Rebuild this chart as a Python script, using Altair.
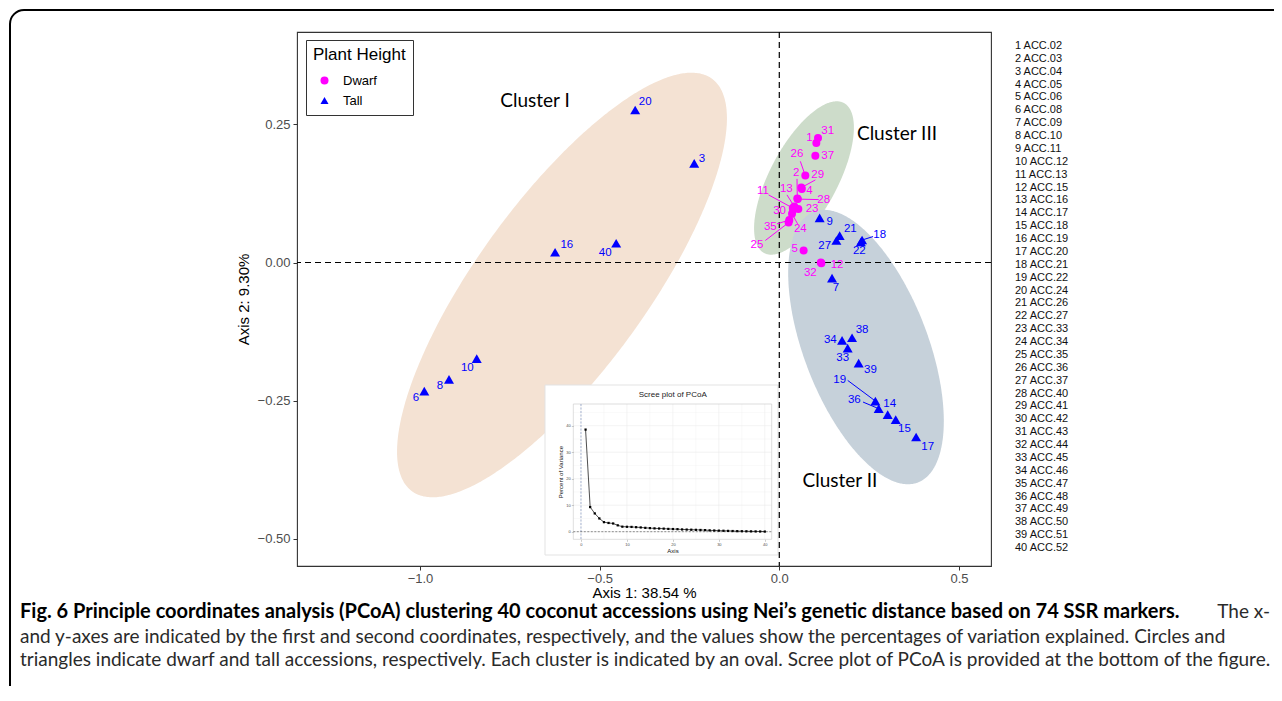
import altair as alt
import numpy as np
import pandas as pd

# ---------------- data ----------------
ids = list(range(1, 41))
accessions = ["ACC.02", "ACC.03", "ACC.04", "ACC.05", "ACC.06", "ACC.08", "ACC.09", "ACC.10", "ACC.11", "ACC.12",
              "ACC.13", "ACC.15", "ACC.16", "ACC.17", "ACC.18", "ACC.19", "ACC.20", "ACC.21", "ACC.22", "ACC.24",
              "ACC.26", "ACC.27", "ACC.33", "ACC.34", "ACC.35", "ACC.36", "ACC.37", "ACC.40", "ACC.41", "ACC.42",
              "ACC.43", "ACC.44", "ACC.45", "ACC.46", "ACC.47", "ACC.48", "ACC.49", "ACC.50", "ACC.51", "ACC.52"]
plant_height = ["Dwarf", "Dwarf", "Tall", "Dwarf", "Dwarf", "Tall", "Tall", "Tall", "Tall", "Tall",
                "Dwarf", "Dwarf", "Dwarf", "Tall", "Tall", "Tall", "Tall", "Tall", "Tall", "Tall",
                "Tall", "Tall", "Dwarf", "Dwarf", "Dwarf", "Dwarf", "Tall", "Dwarf", "Dwarf", "Dwarf",
                "Dwarf", "Dwarf", "Tall", "Tall", "Dwarf", "Tall", "Dwarf", "Tall", "Tall", "Tall"]
axis1 = [0.1031, 0.0501, -0.2368, 0.0627, 0.0677, -0.9880, 0.1468, -0.9192, 0.1123, -0.8421,
         0.0376, 0.1170, 0.0418, 0.3017, 0.3240, -0.6240, 0.3808, 0.2304, 0.2674, -0.4011,
         0.1680, 0.2270, 0.0529, 0.0354, 0.0259, 0.0724, 0.1588, 0.0515, 0.0613, 0.0382,
         0.1078, 0.1156, 0.1903, 0.1747, 0.0279, 0.2766, 0.1003, 0.2025, 0.2209, -0.4540]
axis2 = [0.2165, 0.1157, 0.1796, 0.1329, 0.0217, -0.2327, -0.0284, -0.2116, 0.0808, -0.1741,
         0.0986, -0.0013, 0.1013, -0.2754, -0.2844, 0.0186, -0.3159, 0.0407, -0.2508, 0.2761,
         0.0488, 0.0371, 0.0971, 0.0881, 0.0723, 0.1573, 0.0398, 0.1148, 0.1356, 0.0958,
         0.2255, 0.0000, -0.1550, -0.1410, 0.0769, -0.2646, 0.1935, -0.1362, -0.1821, 0.0349]
# where each number label sits (repelled labels)
label_axis1 = [0.0836, 0.0474, -0.2153, 0.0836, 0.0426, -1.0111, 0.1579, -0.9443, 0.1401, -0.8682,
               -0.0454, 0.1607, 0.0195, 0.3072, 0.3482, -0.5914, 0.4131, 0.2794, 0.1680, -0.3733,
               0.1978, 0.2228, 0.0911, 0.0585, -0.0621, 0.0493, 0.1262, 0.1234, 0.1067, 0.0008,
               0.1345, 0.0864, 0.1763, 0.1421, -0.0251, 0.2089, 0.1345, 0.2304, 0.2535, -0.4847]
label_axis2 = [0.2255, 0.1615, 0.1875, 0.1289, 0.0248, -0.2447, -0.0465, -0.2242, 0.0729, -0.1911,
               0.1289, -0.0054, 0.1333, -0.2555, -0.3007, 0.0320, -0.3340, 0.0506, -0.2121, 0.2899,
               0.0609, 0.0204, 0.0971, 0.0609, 0.0325, 0.1966, 0.0295, 0.1139, 0.1591, 0.0940,
               0.2387, -0.0193, -0.1723, -0.1398, 0.0638, -0.2483, 0.1935, -0.1217, -0.1953, 0.0168]
# leader segments (label-side end)
segment_ids = [2, 11, 13, 18, 19, 24, 25, 26, 28, 29, 35, 36]
segment_axis1 = [0.0493, -0.0298, 0.0214, 0.2610, 0.1903, 0.0510, -0.0390, 0.0585, 0.1095, 0.1003, -0.0064, 0.2331]
segment_axis2 = [0.1514, 0.1224, 0.1224, 0.0470, -0.2134, 0.0700, 0.0398, 0.1832, 0.1139, 0.1495, 0.0700, -0.2526]

# scree plot
scree_axis = list(range(1, 41))
scree_percent = [38.54, 9.30, 6.9, 5.0, 3.6, 3.3, 3.1, 2.4, 1.9, 1.85,
                 1.8, 1.7, 1.6, 1.45, 1.35, 1.25, 1.2, 1.15, 1.05, 1.0,
                 0.95, 0.85, 0.8, 0.75, 0.7, 0.65, 0.6, 0.5, 0.45, 0.4,
                 0.35, 0.3, 0.25, 0.2, 0.18, 0.15, 0.12, 0.1, 0.08, 0.05]
scree_ticks = [0, 10, 20, 30, 40]
scree_grid_x = [0, 5, 10, 15, 20, 25, 30, 35, 40]
scree_grid_y = [0, 5, 10, 15, 20, 25, 30, 35, 40, 45]

# cluster ovals: centre, major and minor semi-axis vectors (data units)
cluster_names = ["Cluster I", "Cluster III", "Cluster II"]
cluster_center_x = [-0.6048, 0.0687, 0.2413]
cluster_center_y = [-0.0407, 0.1530, -0.1530]
cluster_major = [(0.4172, 0.3735), (0.1110, 0.1358), (0.1447, -0.2451)]
cluster_minor = [(0.1915, -0.0905), (0.0835, -0.0290), (0.1611, 0.0402)]
cluster_fill = ["#f4e2d3", "#cddcca", "#c6d1da"]
cluster_text_x = [-0.680, 0.3276, 0.1689]
cluster_text_y = [0.2924, 0.2326, -0.3955]

caption_bold = ("Fig. 6 Principle coordinates analysis (PCoA) clustering 40 coconut accessions "
                "using Nei\u2019s genetic distance based on 74 SSR markers.")
caption_tail = "The x-"
caption_lines = [
    "and y-axes are indicated by the first and second coordinates, respectively, and the values show the "
    "percentages of variation explained. Circles and",
    "triangles indicate dwarf and tall accessions, respectively. Each cluster is indicated by an oval. "
    "Scree plot of PCoA is provided at the bottom of the figure.",
]

# ---------------- layout ----------------
W, H = 694, 534
FONT = "Liberation Sans"
CAP_FONT = "Lato"
# inset panel (pixel box inside the main plot area)
IX0, IX1, IY0, IY1 = 276.3, 474.7, 372.0, 507.3

XDOM = [-1.3423, 0.5892]
YDOM = [-0.5494, 0.4173]


def xs():
    return alt.Scale(domain=XDOM, nice=False, zero=False)


def ys():
    return alt.Scale(domain=YDOM, nice=False, zero=False)


def ixs():
    return alt.Scale(domain=[-1.67, 41.5], range=[IX0, IX1], nice=False, zero=False)


def iys():
    return alt.Scale(domain=[-2.87, 48.2], range=[IY1, IY0], nice=False, zero=False)


xaxis = alt.Axis(orient="bottom", values=[-1.0, -0.5, 0.0, 0.5], format=".1f", title="Axis 1: 38.54 %",
                 grid=False, domain=False, tickColor="#333333", tickSize=4, tickWidth=1,
                 labelFont=FONT, labelFontSize=13, labelColor="#4d4d4d", labelPadding=2, labelFlush=False,
                 titleFont=FONT, titleFontSize=15, titleFontWeight="normal", titleColor="black", titlePadding=0)
yaxis = alt.Axis(orient="left", values=[-0.5, -0.25, 0.0, 0.25], format=".2f", title="Axis 2: 9.30%",
                 grid=False, domain=False, tickColor="#333333", tickSize=4, tickWidth=1,
                 labelFont=FONT, labelFontSize=13, labelColor="#4d4d4d", labelPadding=3, labelFlush=False,
                 titleFont=FONT, titleFontSize=15, titleFontWeight="normal", titleColor="black", titlePadding=6)

# point colours/shapes (with legend)
color_scale = alt.Scale(domain=["Dwarf", "Tall"], range=["#ff00ff", "#0000ff"])
shape_scale = alt.Scale(domain=["Dwarf", "Tall"], range=["circle", "triangle-up"])
# same colours for labels & leader lines (separate scale, no legend)
ink_scale = alt.Scale(domain=["Tall", "Dwarf"], range=["#0000ff", "#ff00ff"])
legend = alt.Legend(title="Plant Height", orient="none", legendX=9, legendY=8, padding=7,
                    strokeColor="#333333", fillColor="white",
                    titleFont=FONT, titleFontSize=17, titleFontWeight="normal", titleColor="black", titlePadding=10,
                    labelFont=FONT, labelFontSize=13, labelColor="black", labelOffset=12,
                    symbolSize=64, symbolStrokeWidth=0, symbolOffset=5, rowPadding=6)

df = pd.DataFrame({"id": ids, "acc": accessions, "height": plant_height,
                   "axis1": axis1, "axis2": axis2, "lx": label_axis1, "ly": label_axis2})
df["num"] = df["id"].astype(str)
seg = pd.DataFrame({"id": segment_ids, "sx": segment_axis1, "sy": segment_axis2}).merge(df, on="id")
one = pd.DataFrame({"zero": [0.0]})


def ellipse_frame(k):
    cx, cy = cluster_center_x[k], cluster_center_y[k]
    ux, uy = cluster_major[k]
    vx, vy = cluster_minor[k]
    phi = np.arctan2(vx, ux)
    s = np.linspace(0, np.pi, 241)
    t1, t2 = phi + s, phi - s
    return pd.DataFrame({"ex": cx + ux * np.cos(t1) + vx * np.sin(t1),
                         "ey1": cy + uy * np.cos(t1) + vy * np.sin(t1),
                         "ey2": cy + uy * np.cos(t2) + vy * np.sin(t2)})


layers = []

# ---- frame & caption ----
layers.append(alt.Chart(one).mark_rect(fill="transparent", stroke="black", strokeWidth=2, cornerRadius=14).encode(
    x=alt.value(-287), x2=alt.value(1010), y=alt.value(-22), y2=alt.value(720)))
layers.append(alt.Chart(one).mark_text(text=caption_bold, font=CAP_FONT, fontSize=20, fontWeight="bold",
                                       color="black", align="left", baseline="middle").encode(
    x=alt.value(-277), y=alt.value(580)))
layers.append(alt.Chart(one).mark_text(text=caption_tail, font=CAP_FONT, fontSize=19, color="#2a2a2a",
                                       align="right", baseline="middle").encode(
    x=alt.value(973), y=alt.value(580)))
layers.append(alt.Chart(one).mark_text(text=caption_lines[0], font=CAP_FONT, fontSize=19, color="#2a2a2a",
                                       align="left", baseline="middle").encode(
    x=alt.value(-277), y=alt.value(605)))
layers.append(alt.Chart(one).mark_text(text=caption_lines[1], font=CAP_FONT, fontSize=19, color="#2a2a2a",
                                       align="left", baseline="middle").encode(
    x=alt.value(-277), y=alt.value(628)))

# ---- ovals ----
for k in range(3):
    layers.append(alt.Chart(ellipse_frame(k)).mark_area(color=cluster_fill[k], opacity=1).encode(
        x=alt.X("ex:Q", scale=xs(), axis=None),
        y=alt.Y("ey1:Q", scale=ys(), axis=None),
        y2="ey2:Q"))

# ---- scree inset ----
scree = pd.DataFrame({"axis": scree_axis, "pct": scree_percent})
gx = pd.DataFrame({"g": scree_grid_x, "w": [0.6 if v % 10 == 0 else 0.3 for v in scree_grid_x]})
gy = pd.DataFrame({"g": scree_grid_y, "w": [0.6 if v % 10 == 0 else 0.3 for v in scree_grid_y]})

layers.append(alt.Chart(one).mark_rect(fill="white", stroke="#e3e3e3", strokeWidth=1).encode(
    x=alt.value(248), x2=alt.value(481), y=alt.value(353), y2=alt.value(523)))
layers.append(alt.Chart(one).mark_text(text="Scree plot of PCoA", font=FONT, fontSize=8, color="#222",
                                       align="center", baseline="middle").encode(
    x=alt.value(375.7), y=alt.value(363)))
layers.append(alt.Chart(gx).mark_rule(color="#ebebeb").encode(
    x=alt.X("g:Q", scale=ixs(), axis=None), y=alt.value(IY0), y2=alt.value(IY1),
    strokeWidth=alt.StrokeWidth("w:Q", scale=None)))
layers.append(alt.Chart(gy).mark_rule(color="#ebebeb").encode(
    y=alt.Y("g:Q", scale=iys(), axis=None), x=alt.value(IX0), x2=alt.value(IX1),
    strokeWidth=alt.StrokeWidth("w:Q", scale=None)))
layers.append(alt.Chart(one).mark_rect(fill="transparent", stroke="#c8c8c8", strokeWidth=0.6).encode(
    x=alt.value(IX0), x2=alt.value(IX1), y=alt.value(IY0), y2=alt.value(IY1)))
layers.append(alt.Chart(one).mark_rule(color="#6f86b8", strokeDash=[2, 1.5], strokeWidth=0.6).encode(
    x=alt.X("zero:Q", scale=ixs(), axis=None), y=alt.value(IY0), y2=alt.value(IY1)))
layers.append(alt.Chart(one).mark_rule(color="#444444", strokeDash=[2, 1.5], strokeWidth=0.6).encode(
    y=alt.Y("zero:Q", scale=iys(), axis=None), x=alt.value(IX0), x2=alt.value(IX1)))
ix_axis = alt.Axis(orient="bottom", offset=-(H - IY1), values=scree_ticks, title="Axis", grid=False, domain=False,
                   titleFont=FONT, titleFontSize=6, titleFontWeight="normal", titleColor="#111", titlePadding=1,
                   labelFont=FONT, labelFontSize=4, labelColor="#4d4d4d", labelPadding=1,
                   tickSize=2, tickColor="#999999", tickWidth=0.5, zindex=1)
iy_axis = alt.Axis(orient="left", offset=-IX0, values=scree_ticks, title="Percent of Variance", grid=False,
                   domain=False, titleFont=FONT, titleFontSize=6, titleFontWeight="normal", titleColor="#111",
                   titlePadding=2, labelFont=FONT, labelFontSize=4, labelColor="#4d4d4d", labelPadding=1,
                   tickSize=2, tickColor="#999999", tickWidth=0.5, zindex=1)
layers.append(alt.Chart(scree).mark_line(color="#222222", strokeWidth=0.8).encode(
    x=alt.X("axis:Q", scale=ixs(), axis=ix_axis), y=alt.Y("pct:Q", scale=iys(), axis=iy_axis)))
layers.append(alt.Chart(scree).mark_square(size=5, color="black", opacity=1).encode(
    x=alt.X("axis:Q", scale=ixs(), axis=None), y=alt.Y("pct:Q", scale=iys(), axis=None)))

# ---- main foreground ----
layers.append(alt.Chart(one).mark_rule(color="black", strokeDash=[6, 4], strokeWidth=1.2).encode(
    x=alt.X("zero:Q", scale=xs(), axis=xaxis)))
layers.append(alt.Chart(one).mark_rule(color="black", strokeDash=[6, 4], strokeWidth=1.2).encode(
    y=alt.Y("zero:Q", scale=ys(), axis=yaxis)))
for grp, sz in (("Dwarf", 64), ("Tall", 100)):
    layers.append(alt.Chart(df).transform_filter(alt.datum.height == grp).mark_point(
        filled=True, size=sz, opacity=1).encode(
        x=alt.X("axis1:Q", scale=xs(), axis=None), y=alt.Y("axis2:Q", scale=ys(), axis=None),
        color=alt.Color("height:N", scale=color_scale, legend=legend),
        shape=alt.Shape("height:N", scale=shape_scale, legend=legend)))
layers.append(alt.Chart(seg).mark_rule(strokeWidth=1).encode(
    x=alt.X("axis1:Q", scale=xs(), axis=None), y=alt.Y("axis2:Q", scale=ys(), axis=None),
    x2="sx:Q", y2="sy:Q",
    stroke=alt.Stroke("height:N", scale=ink_scale, legend=None)))
layers.append(alt.Chart(df).mark_text(font=FONT, fontSize=11.5, align="center", baseline="middle").encode(
    x=alt.X("lx:Q", scale=xs(), axis=None), y=alt.Y("ly:Q", scale=ys(), axis=None),
    text="num:N", fill=alt.Fill("height:N", scale=ink_scale, legend=None)))
cl = pd.DataFrame({"name": cluster_names, "cx": cluster_text_x, "cy": cluster_text_y})
layers.append(alt.Chart(cl).mark_text(font=CAP_FONT, fontSize=19, color="black",
                                      align="center", baseline="middle").encode(
    x=alt.X("cx:Q", scale=xs(), axis=None), y=alt.Y("cy:Q", scale=ys(), axis=None), text="name:N"))

# ---- accession key on the right ----
key = pd.DataFrame({"idx": ids, "line": [f"{i} {a}" if i < 10 else f"{i}  {a}" for i, a in zip(ids, accessions)]})
layers.append(alt.Chart(key).mark_text(font=FONT, fontSize=11, color="#111", align="left",
                                       baseline="middle").encode(
    x=alt.value(718),
    y=alt.Y("idx:Q", scale=alt.Scale(domain=[1, 40], range=[14, 516], nice=False, zero=False), axis=None),
    text="line:N"))

chart = alt.layer(*layers).resolve_scale(x="independent", y="independent").properties(
    width=W, height=H,
    autosize=alt.AutoSizeParams(type="none"),
    padding={"left": 289, "top": 24, "right": 283, "bottom": 120},
    background="white",
).configure_view(stroke="#333333", strokeWidth=1.1)

chart.save("out.html", embed_options={"renderer": "svg", "actions": False})
